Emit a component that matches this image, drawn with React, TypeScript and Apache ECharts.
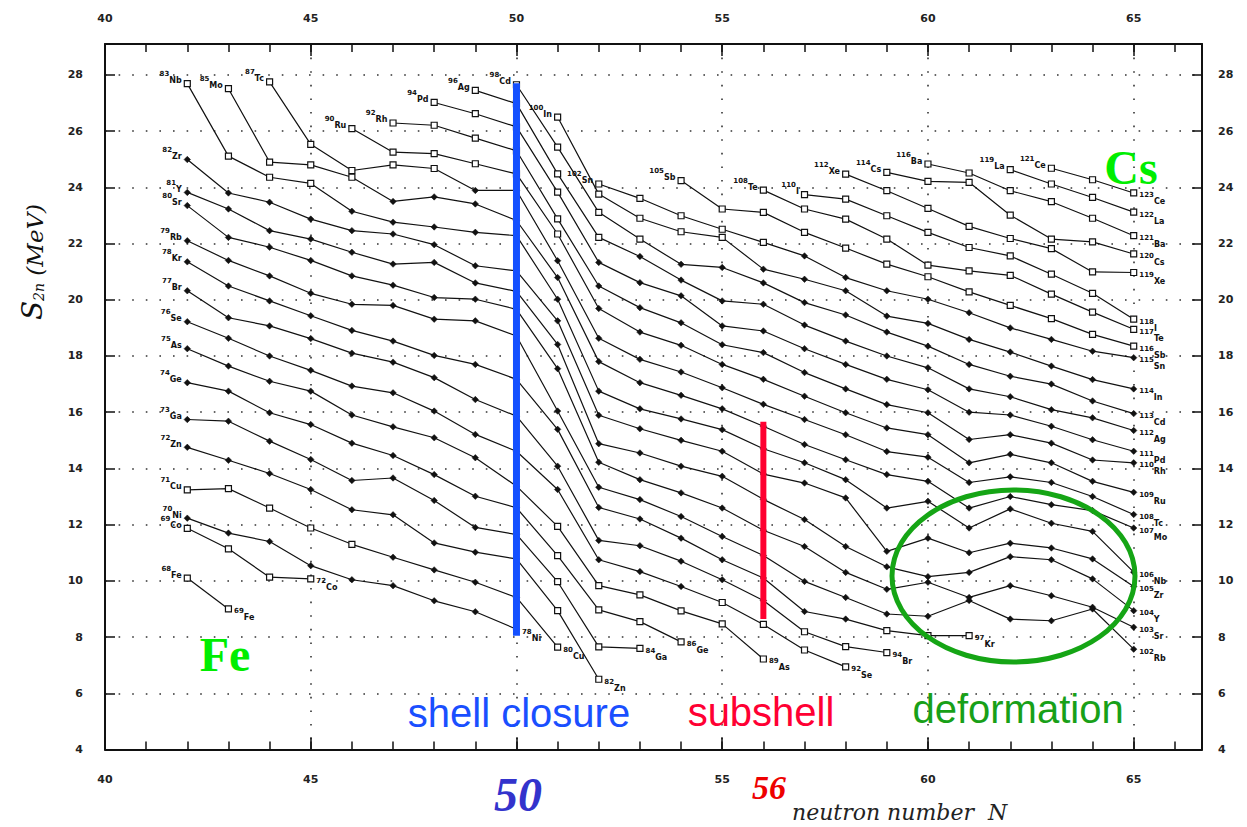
import React, { useEffect, useRef } from "react";
import * as echarts from "echarts";

// ---- axes ----
const X_MIN = 40;
const X_MAX = 66.66;
const Y_MIN = 4;
const Y_MAX = 29.1;

// ---- S2n (MeV) of each isotope chain, consecutive N starting at n0 ----
const FE = [10.1, 9.0];
const CO = [11.87, 11.14, 10.13, 10.07];
const NI = [12.23, 11.7, 11.4, 10.54, 10.04, 9.83, 9.29, 8.9, 8.28];
const CU = [13.24, 13.28, 12.59, 11.88, 11.3, 10.84, 10.39, 9.95, 9.41, 7.64];
const ZN = [14.75, 14.29, 13.82, 13.25, 12.53, 12.35, 11.35, 11.02, 10.78, 8.94, 6.5];
const GA = [15.74, 15.68, 14.97, 14.32, 13.57, 13.66, 12.86, 11.9, 11.65, 9.97, 7.65, 7.6];
const GE = [17.05, 16.75, 15.98, 15.56, 14.9, 14.46, 13.78, 13.01, 12.6, 10.9, 8.97, 8.55, 7.83];
const AS = [18.26, 17.64, 17.1, 16.75, 15.9, 15.48, 15.09, 14.38, 13.37, 11.94, 9.83, 9.5, 8.93, 8.47, 7.22];
const SE = [19.22, 18.63, 18.0, 17.49, 16.93, 16.69, 16.04, 15.21, 14.61, 13.25, 10.75, 10.33, 9.8, 9.23, 8.45, 7.54, 6.94];
const BR = [20.32, 19.36, 19.07, 18.62, 18.1, 17.78, 17.23, 16.45, 15.86, 14.08, 11.44, 11.25, 10.7, 10.04, 9.3, 8.19, 7.66, 7.45];
const KR = [21.35, 20.49, 19.96, 19.43, 18.91, 18.53, 18.02, 17.7, 17.17, 15.39, 12.61, 12.2, 11.52, 10.75, 10.1, 8.91, 8.64, 8.23, 8.05, 8.05];
const RB = [22.1, 21.4, 20.85, 20.23, 19.84, 19.8, 19.31, 19.25, 18.71, 16.04, 13.33, 12.89, 12.29, 11.58, 10.9, 9.98, 9.41, 8.82, 8.74, 9.3, 8.64, 8.58, 9.0, 7.57];
const SR = [23.35, 22.22, 21.87, 21.4, 20.85, 20.52, 20.08, 20.02, 19.66, 17.55, 14.22, 13.6, 13.13, 12.59, 11.8, 11.22, 10.3, 9.7, 9.95, 9.41, 9.83, 9.47, 9.06, 8.35];
const Y_ = [23.82, 23.23, 22.46, 22.16, 21.69, 21.27, 21.33, 20.6, 20.3, 18.41, 14.88, 14.55, 14.08, 13.72, 12.9, 12.18, 11.22, 10.5, 10.15, 10.3, 10.86, 10.75, 10.07, 8.94];
const ZR = [24.99, 23.8, 23.47, 22.87, 22.46, 22.34, 21.96, 21.21, 21.03, 19.25, 15.89, 15.41, 15.0, 14.61, 13.8, 13.48, 12.95, 11.05, 11.52, 11.0, 11.34, 11.17, 10.78, 9.8];
const NB = [27.69, 25.11, 24.36, 24.14, 23.15, 22.76, 22.59, 22.4, 22.28, 20.02, 16.75, 16.12, 15.76, 15.38, 14.7, 14.2, 13.6, 12.59, 12.83, 11.88, 12.56, 12.05, 11.76, 10.31];
const MO = [27.51, 24.9, 24.8, 24.36, 23.5, 23.66, 23.41, 22.82, 20.79, 17.8, 17.05, 16.6, 16.12, 15.5, 14.85, 14.31, 13.78, 13.54, 12.59, 13.0, 12.71, 12.5, 11.88];
const TC = [27.75, 25.53, 24.6, 24.8, 24.67, 23.89, 23.89, 21.39, 18.63, 17.88, 17.43, 16.87, 16.28, 15.74, 15.2, 14.6, 14.4, 13.5, 13.7, 13.5, 13.0, 12.36];
const RU = [26.09, 25.25, 25.2, 24.84, 24.48, 22.34, 19.69, 18.85, 18.38, 17.7, 17.17, 16.57, 15.98, 15.44, 15.2, 14.2, 14.5, 14.2, 13.54, 13.15];
const RH = [26.29, 26.21, 25.75, 25.3, 22.88, 20.49, 19.72, 19.18, 18.4, 18.12, 17.41, 16.83, 16.27, 15.98, 15.03, 15.2, 14.9, 14.3, 14.2];
const PD = [27.02, 26.62, 26.15, 23.83, 21.33, 20.61, 20.14, 19.07, 18.89, 18.26, 17.7, 17.17, 16.8, 16.0, 15.9, 15.5, 15.02, 14.61];
const AG = [27.45, 26.98, 24.48, 22.22, 21.54, 20.7, 19.96, 19.84, 19.1, 18.53, 18.0, 17.58, 16.83, 16.55, 16.09, 15.8, 15.35];
const CD = [27.65, 25.43, 23.11, 22.16, 21.26, 21.15, 20.6, 19.9, 19.46, 18.85, 18.35, 17.7, 17.28, 17.0, 16.4, 15.95];
const IN = [26.5, 23.76, 22.9, 22.42, 22.22, 21.09, 20.73, 20.32, 19.42, 19.16, 18.59, 18.14, 17.64, 17.16, 16.83];
const SN = [24.12, 23.61, 22.99, 22.51, 22.04, 21.56, 20.79, 20.32, 20.02, 19.54, 19.0, 18.59, 18.17, 17.94];
const SB = [24.24, 23.23, 23.11, 22.4, 21.84, 21.27, 20.82, 20.28, 19.8, 19.33, 18.77, 18.35];
const TE = [23.9, 23.23, 22.87, 22.16, 21.23, 21.03, 20.87, 20.2, 19.56, 18.95];
const I_ = [23.74, 23.58, 22.99, 22.4, 21.86, 21.56, 20.91, 20.23, 19.31];
const XE = [24.47, 23.88, 23.25, 22.61, 22.18, 21.82, 20.99, 20.97];
const CS = [24.53, 24.21, 24.18, 23.01, 22.16, 22.06, 21.63];
const BA = [24.83, 24.51, 23.88, 23.49, 22.9, 22.28];
const LA = [24.63, 24.12, 23.64, 23.12];
const CE = [24.68, 24.27, 23.8];

const CHAINS = [
  { el: "Fe", z: 26, n0: 42, s: FE },
  { el: "Co", z: 27, n0: 42, s: CO },
  { el: "Ni", z: 28, n0: 42, s: NI },
  { el: "Cu", z: 29, n0: 42, s: CU },
  { el: "Zn", z: 30, n0: 42, s: ZN },
  { el: "Ga", z: 31, n0: 42, s: GA },
  { el: "Ge", z: 32, n0: 42, s: GE },
  { el: "As", z: 33, n0: 42, s: AS },
  { el: "Se", z: 34, n0: 42, s: SE },
  { el: "Br", z: 35, n0: 42, s: BR },
  { el: "Kr", z: 36, n0: 42, s: KR },
  { el: "Rb", z: 37, n0: 42, s: RB },
  { el: "Sr", z: 38, n0: 42, s: SR },
  { el: "Y", z: 39, n0: 42, s: Y_ },
  { el: "Zr", z: 40, n0: 42, s: ZR },
  { el: "Nb", z: 41, n0: 42, s: NB },
  { el: "Mo", z: 42, n0: 43, s: MO },
  { el: "Tc", z: 43, n0: 44, s: TC },
  { el: "Ru", z: 44, n0: 46, s: RU },
  { el: "Rh", z: 45, n0: 47, s: RH },
  { el: "Pd", z: 46, n0: 48, s: PD },
  { el: "Ag", z: 47, n0: 49, s: AG },
  { el: "Cd", z: 48, n0: 50, s: CD },
  { el: "In", z: 49, n0: 51, s: IN },
  { el: "Sn", z: 50, n0: 52, s: SN },
  { el: "Sb", z: 51, n0: 54, s: SB },
  { el: "Te", z: 52, n0: 56, s: TE },
  { el: "I", z: 53, n0: 57, s: I_ },
  { el: "Xe", z: 54, n0: 58, s: XE },
  { el: "Cs", z: 55, n0: 59, s: CS },
  { el: "Ba", z: 56, n0: 60, s: BA },
  { el: "La", z: 57, n0: 62, s: LA },
  { el: "Ce", z: 58, n0: 63, s: CE },
];

// highlighted closures
const SHELL = { n: 50, from: 27.7, to: 8.05 };
const SUBSHELL = { n: 56, from: 15.66, to: 8.64 };

function isOpen(z: number, n: number, s: number) {
  if (z <= 27) return true;
  if (z === 29 && n <= 46) return true;
  if (z >= 41 && n <= 50 && s >= 24) return true;
  if (n >= 51 && n <= 54 && z <= 33) return true;
  if (z <= 34 && n >= 55) return true;
  if (z === 35 && n >= 57) return true;
  if (z === 36 && n >= 59) return true;
  if (n >= 51 && s >= 21.7) return true;
  if (z >= 51) return true;
  return false;
}

const labelRich = {
  a: { fontSize: 7, fontWeight: "bold", fontFamily: "DejaVu Sans", color: "#111", verticalAlign: "top", lineHeight: 14 },
  b: { fontSize: 8, fontWeight: "bold", fontFamily: "DejaVu Sans", color: "#111", verticalAlign: "bottom", lineHeight: 14 },
};

const tickFont = { fontSize: 11, fontWeight: "bold", color: "#222", fontFamily: "DejaVu Sans" };

function buildOption() {
  const chainSeries = CHAINS.map((c) => {
    const last = c.s.length - 1;
    return {
      type: "line",
      name: c.el,
      z: 3,
      silent: true,
      lineStyle: { color: "#111", width: 1.2 },
      data: c.s.map((v, i) => {
        const n = c.n0 + i;
        const open = isOpen(c.z, n, v);
        const item: any = {
          value: [n, v],
          symbol: open ? "rect" : "diamond",
          symbolSize: open ? 6 : 6.5,
          itemStyle: open
            ? { color: "#fff", borderColor: "#111", borderWidth: 1.2 }
            : { color: "#111", borderColor: "#111", borderWidth: 0.5 },
        };
        if (i === 0) {
          item.label = {
            show: true, position: "left", distance: 2, offset: [0, -6],
            formatter: `{a|${c.z + c.n0}}{b|${c.el}}`, rich: labelRich,
          };
        } else if (i === last) {
          item.label = {
            show: true, position: "right", distance: 2, offset: [0, 6],
            formatter: `{a|${c.z + n}}{b|${c.el}}`, rich: labelRich,
          };
        }
        return item;
      }),
    };
  });

  const markLine = (d: { n: number; from: number; to: number }, color: string, width: number) => ({
    type: "line",
    z: 10,
    silent: true,
    symbol: "none",
    lineStyle: { color, width, cap: "butt" },
    data: [[d.n, d.from], [d.n, d.to]],
  });

  // bottom axis: the "50" tick label is covered by the big "50" in the reference
  const xMajor = (position: string, margin: number, split: boolean, hide: number[]) => ({
    type: "value", position, min: X_MIN, max: X_MAX, interval: 5,
    axisLine: { show: true, onZero: false, lineStyle: { color: "#111", width: 2 } },
    axisTick: { show: true, inside: true, length: 12, lineStyle: { color: "#111", width: 1.5 } },
    axisLabel: {
      show: true, margin, ...tickFont,
      formatter: (v: number) => (Math.abs(v % 5) < 1e-6 && hide.indexOf(v) < 0 ? String(v) : ""),
    },
    splitLine: { show: split, lineStyle: { color: "#333", width: 1.6, type: [1.6, 12] } },
  });
  const xMinor = (position: string) => ({
    type: "value", position, min: X_MIN, max: X_MAX, interval: 1,
    axisLine: { show: false, onZero: false },
    axisTick: { show: true, inside: true, length: 8, lineStyle: { color: "#111", width: 1.5 } },
    axisLabel: { show: false },
    splitLine: { show: false },
  });
  const yAx = (position: string, margin: number, split: boolean) => ({
    type: "value", position, min: Y_MIN, max: Y_MAX, interval: 2,
    axisLine: { show: true, onZero: false, lineStyle: { color: "#111", width: 2 } },
    axisTick: { show: true, inside: true, length: 10, lineStyle: { color: "#111", width: 1.5 } },
    axisLabel: { show: true, margin, ...tickFont, formatter: (v: number) => (Math.abs(v % 2) < 1e-6 ? String(v) : "") },
    splitLine: { show: split, lineStyle: { color: "#333", width: 1.6, type: [1.6, 12] } },
  });

  const txt = (x: number, y: number, text: string, fill: string, font: string, align = "center") => ({
    type: "text", x, y, z: 100, silent: true,
    style: { text, fill, font, align, verticalAlign: "middle" },
  });

  return {
    animation: false,
    backgroundColor: "#fff",
    grid: { left: 105, right: 45, top: 44, bottom: 77.5, containLabel: false },
    xAxis: [xMajor("bottom", 24, true, [50]), xMinor("bottom"), xMajor("top", 20, false, []), xMinor("top")],
    yAxis: [yAx("left", 22, true), yAx("right", 16, false)],
    series: [...chainSeries, markLine(SHELL, "#1450ff", 7), markLine(SUBSHELL, "#ff0030", 6)],
    graphic: [
      {
        type: "ellipse", z: 100, silent: true,
        shape: { cx: 1013.5, cy: 576, rx: 121.5, ry: 86 },
        style: { fill: "none", stroke: "#15a515", lineWidth: 5 },
      },
      txt(225, 654, "Fe", "#00ee00", 'bold 48px "Liberation Serif"'),
      txt(1131, 167, "Cs", "#00ee00", 'bold 48px "Liberation Serif"'),
      txt(519, 713, "shell closure", "#1a4fff", '40px "Liberation Sans"'),
      txt(761, 712, "subshell", "#ff0033", '40px "Liberation Sans"'),
      txt(1018, 709, "deformation", "#18a018", '40px "Liberation Sans"'),
      txt(518, 794, "50", "#3333cc", 'italic bold 48px "Liberation Serif"'),
      txt(769, 787, "56", "#ee0000", 'italic bold 34px "Liberation Serif"'),
      txt(792, 812, "neutron number  N", "#222", 'italic 22px "DejaVu Serif"', "left"),
      {
        type: "text", x: 28, y: 262, rotation: Math.PI / 2, z: 100, silent: true,
        style: {
          text: "{s|S}{sub|2n}{m| (MeV)}",
          align: "center",
          verticalAlign: "middle",
          rich: {
            s: { fontFamily: "DejaVu Serif", fontStyle: "italic", fontSize: 28, fill: "#111", verticalAlign: "bottom", lineHeight: 36 },
            sub: { fontFamily: "DejaVu Serif", fontStyle: "italic", fontSize: 14, fill: "#111", verticalAlign: "bottom", lineHeight: 28 },
            m: { fontFamily: "DejaVu Serif", fontStyle: "italic", fontSize: 23, fill: "#111", verticalAlign: "bottom", lineHeight: 36 },
          },
        },
      },
    ],
  };
}

export default function App() {
  const ref = useRef<HTMLDivElement>(null);
  useEffect(() => {
    if (!ref.current) return;
    const chart = echarts.init(ref.current, undefined, { renderer: "svg" });
    chart.setOption(buildOption() as any);
    return () => chart.dispose();
  }, []);
  return (
    <div
      ref={ref}
      style={{ position: "fixed", left: 0, top: 0, width: 1247, height: 827, background: "#fff" }}
    />
  );
}
